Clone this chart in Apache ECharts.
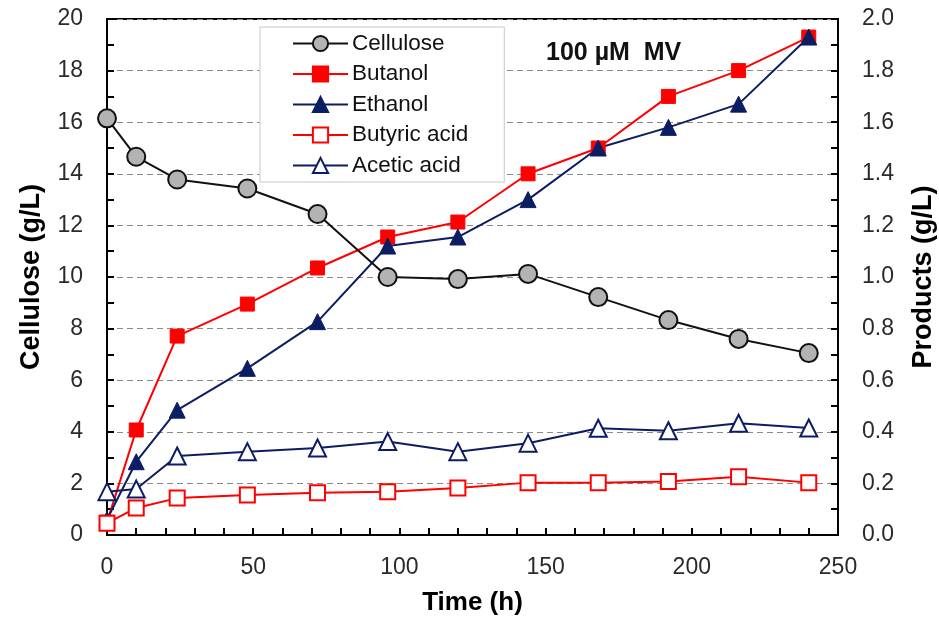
<!DOCTYPE html>
<html>
<head>
<meta charset="utf-8">
<script src="https://cdn.jsdelivr.net/npm/echarts@6/dist/echarts.min.js"></script>
<style>
html,body{margin:0;padding:0;background:#fff;}
#chart{width:939px;height:618px;}
</style>
</head>
<body>
<div id="chart"></div>
<script>
var times = [0, 10, 24, 48, 72, 96, 120, 144, 168, 192, 216, 240];
var cellulose = [16.15, 14.66, 13.78, 13.43, 12.44, 10.0, 9.92, 10.12, 9.22, 8.33, 7.6, 7.05];
var butanol = [0.05, 0.407, 0.771, 0.895, 1.035, 1.155, 1.213, 1.40, 1.50, 1.70, 1.80, 1.93];
var ethanol = [0.06, 0.284, 0.484, 0.646, 0.827, 1.12, 1.155, 1.30, 1.50, 1.58, 1.67, 1.93];
var butyric = [0.046, 0.105, 0.143, 0.155, 0.164, 0.168, 0.182, 0.203, 0.203, 0.207, 0.226, 0.203];
var acetic = [0.168, 0.178, 0.306, 0.323, 0.337, 0.362, 0.323, 0.356, 0.414, 0.404, 0.433, 0.415];
var seriesNames = ['Cellulose', 'Butanol', 'Ethanol', 'Butyric acid', 'Acetic acid'];
var leftTicks = {min: 0, max: 20, interval: 2};
var rightTicks = {min: 0, max: 2, interval: 0.2};
var xTicks = {min: 0, max: 250, interval: 50};

function pairs(vals) { return times.map(function (t, i) { return [t, vals[i]]; }); }

var navy = '#0c1d63';
var red = '#ff0000';
var font = 'Liberation Sans, Arial, sans-serif';

var chart = echarts.init(document.getElementById('chart'), null, {renderer: 'canvas'});
chart.setOption({
  animation: false,
  backgroundColor: '#fff',
  textStyle: {fontFamily: font},
  title: {
    text: '100 µM  MV',
    left: 541, top: 36,
    textStyle: {fontFamily: font, fontSize: 25, fontWeight: 'bold', color: '#111'}
  },
  grid: {left: 107, right: 101, top: 19, bottom: 83, containLabel: false, outerBoundsMode: 'none',
    show: true, borderColor: '#000', borderWidth: 2, backgroundColor: 'transparent'},
  legend: {
    data: seriesNames,
    orient: 'vertical',
    left: 260, top: 27,
    padding: [5, 36, 5, 32],
    itemWidth: 55, itemHeight: 19, itemGap: 7.5,
    borderColor: '#c8c8c8', borderWidth: 1, backgroundColor: '#fff',
    textStyle: {fontFamily: font, fontSize: 22.5, color: '#111', lineHeight: 23, padding: [0, 0, 0, -1]}
  },
  xAxis: {
    type: 'value', min: xTicks.min, max: xTicks.max, interval: xTicks.interval,
    name: 'Time (h)', nameLocation: 'middle', nameGap: 55,
    nameTextStyle: {fontFamily: font, fontSize: 26, fontWeight: 'bold', color: '#000'},
    axisLine: {lineStyle: {color: '#000', width: 2}},
    axisTick: {inside: true, length: 7, lineStyle: {color: '#000', width: 2}},
    minorTick: {show: true, splitNumber: 5, length: 7, lineStyle: {color: '#000', width: 2}},
    axisLabel: {margin: 21, fontFamily: font, fontSize: 23, color: '#2a2a2a'},
    splitLine: {show: false}
  },
  yAxis: [{
    type: 'value', min: leftTicks.min, max: leftTicks.max, interval: leftTicks.interval,
    name: 'Cellulose (g/L)', nameLocation: 'middle', nameGap: 62,
    nameTextStyle: {fontFamily: font, fontSize: 27, fontWeight: 'bold', color: '#000'},
    axisLine: {show: true, lineStyle: {color: '#000', width: 2}},
    axisTick: {show: true, inside: true, length: 7, lineStyle: {color: '#000', width: 2}},
    minorTick: {show: true, splitNumber: 2, length: 7, lineStyle: {color: '#000', width: 2}},
    axisLabel: {margin: 24, fontFamily: font, fontSize: 23, color: '#2a2a2a'},
    splitLine: {show: true, lineStyle: {color: '#8a8a8a', width: 1.2, type: [6, 4]}}
  }, {
    type: 'value', min: rightTicks.min, max: rightTicks.max, interval: rightTicks.interval,
    name: 'Products (g/L)', nameLocation: 'middle', nameGap: 72,
    nameTextStyle: {fontFamily: font, fontSize: 27, fontWeight: 'bold', color: '#000'},
    axisLine: {show: true, lineStyle: {color: '#000', width: 2}},
    axisTick: {show: true, inside: true, length: 7, lineStyle: {color: '#000', width: 2}},
    minorTick: {show: true, splitNumber: 2, length: 7, lineStyle: {color: '#000', width: 2}},
    axisLabel: {margin: 24, fontFamily: font, fontSize: 23, color: '#2a2a2a', formatter: function (v) { return v.toFixed(1); }},
    splitLine: {show: false}
  }],
  series: [{
    name: seriesNames[0], type: 'line', yAxisIndex: 0, data: pairs(cellulose),
    symbol: 'circle', symbolSize: 18, z: 5,
    itemStyle: {color: '#b3b3b3', borderColor: '#111', borderWidth: 2},
    lineStyle: {color: '#111', width: 2}
  }, {
    name: seriesNames[1], type: 'line', yAxisIndex: 1, data: pairs(butanol),
    symbol: 'rect', symbolSize: 14, z: 3,
    itemStyle: {color: red, borderColor: red, borderWidth: 1},
    lineStyle: {color: red, width: 2}
  }, {
    name: seriesNames[2], type: 'line', yAxisIndex: 1, data: pairs(ethanol),
    symbol: 'triangle', symbolSize: 16, z: 3,
    itemStyle: {color: navy, borderColor: navy, borderWidth: 1},
    lineStyle: {color: navy, width: 2}
  }, {
    name: seriesNames[3], type: 'line', yAxisIndex: 1, data: pairs(butyric),
    symbol: 'rect', symbolSize: 15, z: 4,
    itemStyle: {color: '#fff', borderColor: red, borderWidth: 2},
    lineStyle: {color: red, width: 2}
  }, {
    name: seriesNames[4], type: 'line', yAxisIndex: 1, data: pairs(acetic),
    symbol: 'triangle', symbolSize: 17, z: 4,
    itemStyle: {color: '#fff', borderColor: navy, borderWidth: 2},
    lineStyle: {color: navy, width: 2}
  }]
});
</script>
</body>
</html>
